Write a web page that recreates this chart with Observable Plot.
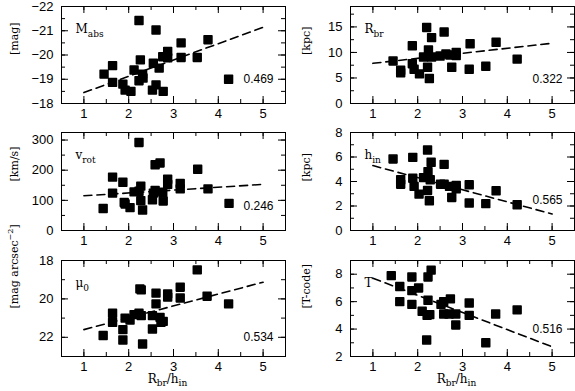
<!DOCTYPE html>
<html><head><meta charset="utf-8">
<script src="https://cdn.jsdelivr.net/npm/d3@7"></script>
<script src="https://cdn.jsdelivr.net/npm/@observablehq/plot@0.6"></script>
<style>
body{margin:0;background:#fff}
#fig{position:relative;width:575px;height:391px;overflow:hidden;background:#fff}
#fig svg{position:absolute;max-width:none;overflow:visible !important}
</style></head><body><div id="fig"></div>
<script>
// ---- data ----
const xTicks = [1, 2, 3, 4, 5];
const fitX = [1, 5];

const mabsX = [2.23,2.61,3.17,3.77,2.87,2.87,2.76,3.17,3.53,2.55,2.68,2.26,1.64,1.45,2.12,2.31,2.32,2.23,1.64,1.87,1.92,2.05,2.61,2.53,2.77,4.23];
const mabsY = [-21.42,-21.03,-20.5,-20.63,-20.15,-19.88,-19.93,-19.9,-19.9,-19.66,-19.46,-19.8,-19.56,-19.21,-19.38,-19.21,-19.05,-18.94,-18.87,-18.8,-18.55,-18.5,-18.77,-18.55,-18.5,-19.0];
const mabsFit = [-18.45, -21.14];
const mabsTicks = [-22, -21, -20, -19, -18];

const rbrX = [1.45,1.62,1.62,1.88,1.88,1.92,2.04,2.13,2.2,2.24,2.22,2.26,2.31,2.31,2.59,2.5,2.63,2.72,2.86,2.86,2.76,3.17,3.15,3.52,3.75,4.22];
const rbrY = [8.33,6.5,6.0,11.3,7.8,6.7,5.8,9.1,14.9,10.5,7.1,4.9,12.9,9.1,14.0,9.3,9.7,9.5,10.0,9.4,7.1,11.7,6.7,7.3,12.0,8.7];
const rbrFit = [7.87, 11.8];
const rbrTicks = [0, 5, 10, 15];

const vrotX = [1.43,1.64,1.64,1.87,1.9,1.92,2.03,2.12,2.23,2.23,2.27,2.27,2.31,2.53,2.55,2.59,2.59,2.7,2.76,2.77,2.87,2.87,3.15,3.15,3.54,3.77,4.24];
const vrotY = [73,177,124,160,93,88,76,128,292,130,147,99,68,102,124,133,218,224,127,98,170,153,156,138,203,138,90];
const vrotFit = [115, 153];
const vrotTicks = [0, 100, 200, 300];

const hinX = [1.45,1.62,1.62,1.89,1.89,1.92,2.03,2.13,2.22,2.23,2.22,2.26,2.30,2.28,2.51,2.59,2.59,2.71,2.76,2.86,2.86,3.15,3.15,3.52,3.75,4.22];
const hinY = [5.84,4.14,3.78,5.97,4.27,3.6,2.97,4.32,6.57,4.81,3.27,2.43,5.57,4.14,3.78,5.4,3.78,3.6,2.7,3.68,3.4,3.73,2.24,2.19,3.24,2.1];
const hinFit = [5.3, 1.35];
const hinTicks = [0, 2, 4, 6, 8];

const muX = [1.43,1.64,1.64,1.87,1.87,1.92,2.03,2.12,2.23,2.25,2.28,2.28,2.31,2.53,2.53,2.61,2.61,2.7,2.72,2.77,2.87,2.87,3.15,3.15,3.53,3.75,4.23];
const muY = [21.91,20.75,21.22,21.6,22.14,21.0,21.1,20.82,20.75,19.48,19.53,20.87,22.35,20.87,21.57,19.7,20.26,20.96,21.22,21.17,19.74,19.91,19.39,19.95,18.49,19.86,20.26];
const muFit = [21.6, 19.13];
const muTicks = [18, 20, 22];

const tX = [1.41,1.6,1.6,1.87,1.87,1.87,2.02,2.1,2.21,2.23,2.23,2.3,2.27,2.2,2.52,2.58,2.58,2.73,2.7,2.85,2.85,3.15,3.15,3.52,3.74,4.22];
const tY = [7.9,7.1,6.0,7.8,6.8,5.8,7.0,5.3,5.0,6.1,7.8,8.3,5.05,3.2,5.8,6.0,5.1,6.2,5.1,5.1,4.3,5.9,5.0,3.0,5.1,5.4];
const tFit = [7.71, 2.71];
const tTicks = [2, 4, 6, 8];

const corrs = ["0.469", "0.322", "0.246", "0.565", "0.534", "0.516"];
const names = [["M","abs"],["R","br"],["v","rot"],["h","in"],["\u03bc","0"],["T",""]];
const units = ["[mag]", "[kpc]", "[km/s]", "[kpc]", "[mag arcsec\u22122]", "[T-code]"];
const xTitle = "Rbr/hin";

// ---- layout ----
const cols = [{left: 0, width: 288, ml: 61, mr: 3}, {left: 288, width: 287, ml: 62, mr: 1}];
const rows = [{top: 0, height: 128, mt: 6, mb: 25}, {top: 128, height: 128, mt: 4, mb: 26}, {top: 256, height: 135, mt: 4, mb: 35}];

const panels = [
  {x: mabsX, y: mabsY, fit: mabsFit, ticks: mabsTicks, minor: d3.range(-22, -17.9, 0.5), domain: [-18, -22], fmt: d => d < 0 ? "\u2212" + (-d) : String(d)},
  {x: rbrX, y: rbrY, fit: rbrFit, ticks: rbrTicks, minor: d3.range(0, 19, 2.5), domain: [0, 19]},
  {x: vrotX, y: vrotY, fit: vrotFit, ticks: vrotTicks, minor: d3.range(0, 326, 50), domain: [0, 325]},
  {x: hinX, y: hinY, fit: hinFit, ticks: hinTicks, minor: d3.range(0, 8.1, 1), domain: [0, 8]},
  {x: muX, y: muY, fit: muFit, ticks: muTicks, minor: d3.range(18, 23.1, 1), domain: [23, 18]},
  {x: tX, y: tY, fit: tFit, ticks: tTicks, minor: d3.range(2, 9.1, 1), domain: [2, 9]}
];
const corrDy = [-24, -24, -24, -30, -19, -27];

const numFont = "'Liberation Sans', Arial, sans-serif";
const serif = "'DejaVu Serif', 'Liberation Serif', serif";
const fig = document.getElementById("fig");

panels.forEach((p, i) => {
  const c = cols[i % 2], r = rows[Math.floor(i / 2)];
  const innerW = c.width - c.ml - c.mr, innerH = r.height - r.mt - r.mb;
  const pts = p.x.map((x, k) => ({x, y: p.y[k]}));
  const fitPts = fitX.map((x, k) => ({x, y: p.fit[k]}));
  const fmt = p.fmt || (d => String(d));
  const xMinor = d3.range(0.5, 5.6, 0.5);
  const marks = [
    Plot.frame({stroke: "black", strokeWidth: 1}),
    // inward ticks, x
    Plot.tickX(xTicks, {x: d => d, insetTop: innerH - 7, stroke: "black"}),
    Plot.tickX(xTicks, {x: d => d, insetBottom: innerH - 7, stroke: "black"}),
    Plot.tickX(xMinor, {x: d => d, insetTop: innerH - 4, stroke: "black"}),
    Plot.tickX(xMinor, {x: d => d, insetBottom: innerH - 4, stroke: "black"}),
    // inward ticks, y
    Plot.tickY(p.ticks, {y: d => d, insetRight: innerW - 7, stroke: "black"}),
    Plot.tickY(p.ticks, {y: d => d, insetLeft: innerW - 7, stroke: "black"}),
    Plot.tickY(p.minor, {y: d => d, insetRight: innerW - 4, stroke: "black"}),
    Plot.tickY(p.minor, {y: d => d, insetLeft: innerW - 4, stroke: "black"}),
    // tick labels
    Plot.text(xTicks, {x: d => d, text: d => String(d), frameAnchor: "bottom", dy: 14, fontSize: 13, fontFamily: numFont, fill: "black"}),
    Plot.text(p.ticks, {y: d => d, text: fmt, frameAnchor: "left", dx: -8, textAnchor: "end", fontSize: 13, fontFamily: numFont, fill: "black"}),
    // unit label
    Plot.text([units[i]], {frameAnchor: "left", dx: i % 2 ? -44 : -47, rotate: -90, fontSize: 11, fontFamily: serif, fill: "black"}),
    // fit line
    Plot.line(fitPts, {x: "x", y: "y", stroke: "black", strokeWidth: 1.6, strokeDasharray: "8,5"}),
    // points
    Plot.dot(pts, {x: "x", y: "y", symbol: "square", r: 4.4, fill: "black", stroke: "black", strokeWidth: 1.6, strokeLinejoin: "round"}),
    // panel name
    Plot.text([names[i].join("")], {frameAnchor: "top-left", dx: 14, dy: 18, textAnchor: "start", fontSize: 12, fontFamily: serif, fill: "black"}),
    // correlation coefficient
    Plot.text([corrs[i]], {frameAnchor: "bottom-right", dx: -12, dy: corrDy[i], textAnchor: "end", lineAnchor: "middle", fontSize: 12, fontFamily: numFont, fill: "black"})
  ];
  if (i >= 4) marks.push(Plot.text([xTitle], {frameAnchor: "bottom", dy: 23, dx: -6, lineAnchor: "middle", fontSize: 12, fontFamily: serif, fill: "black"}));
  const svg = Plot.plot({
    width: c.width, height: r.height,
    marginLeft: c.ml, marginRight: c.mr, marginTop: r.mt, marginBottom: r.mb,
    x: {domain: [0.5, 5.5], axis: null},
    y: {domain: p.domain, axis: null},
    style: {background: "transparent", color: "black", overflow: "visible"},
    marks
  });
  svg.style.left = c.left + "px";
  svg.style.top = r.top + "px";
  svg.style.overflow = "visible";
  fig.appendChild(svg);
  // subscripts / superscripts as tspans
  d3.select(svg).selectAll("text").each(function () {
    const t = this.textContent;
    const nm = names[i];
    if (t === nm.join("") && nm[1]) {
      this.textContent = nm[0];
      d3.select(this).append("tspan").attr("dy", 4).attr("font-size", 9).text(nm[1]);
    } else if (t === xTitle) {
      this.textContent = "R";
      const s = d3.select(this);
      s.append("tspan").attr("dy", 3).attr("font-size", 9).text("br");
      s.append("tspan").attr("dy", -3).text("/h");
      s.append("tspan").attr("dy", 3).attr("font-size", 9).text("in");
    } else if (t === "[mag arcsec\u22122]") {
      this.textContent = "[mag arcsec";
      const s = d3.select(this);
      s.append("tspan").attr("dy", -5).attr("font-size", 8).text("\u22122");
      s.append("tspan").attr("dy", 5).text("]");
    }
  });
});
</script></body></html>
